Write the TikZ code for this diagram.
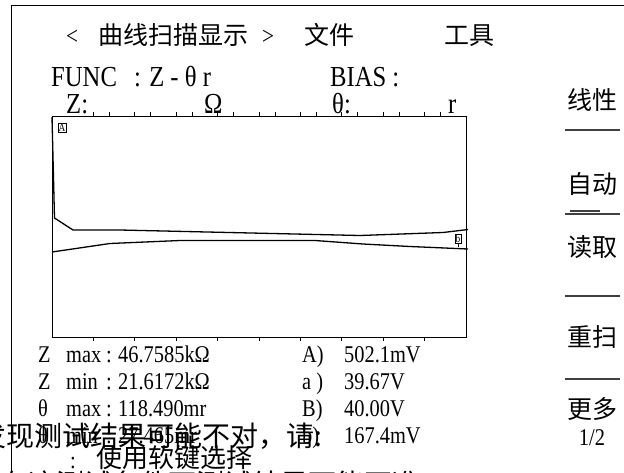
\documentclass[tikz,border=0pt]{standalone}
\usepackage{fontspec}
\setmainfont{Liberation Serif}[FakeStretch=0.85]
\newfontfamily\cjk{Noto Sans CJK SC}
\usetikzlibrary{positioning}

\tikzset{
  lbl/.style={anchor=base west, inner sep=0pt, font=\fontsize{24}{24}\selectfont},
  hdr/.style={lbl, font=\fontsize{29}{29}\selectfont},
  cn/.style={anchor=base west, inner sep=0pt, font=\cjk\fontsize{25}{25}\selectfont},
  cnbig/.style={cn, font=\cjk\fontsize{28}{28}\selectfont},
  softkey/.style={cn, anchor=base},
  keyline/.style={line width=1.6pt, draw=black!75},
  outerline/.style={line width=1pt},
  trace/.style={line width=1.3pt},
  tagbox/.style={draw, line width=0.6pt, inner sep=0.8pt, font=\fontsize{11}{11}\selectfont},
}

\begin{document}
\begin{tikzpicture}[x=1pt,y=-1pt]
    \useasboundingbox (0,0) rectangle (624,472);
    % Outer frame
    \draw[outerline] (11,472) -- (11,5) -- (624,5);

    % Title line
    \node[lbl, font=\fontsize{25}{25}\selectfont] (lt) at (66,44) {<};
    \node[cn] (title) at (98,44) {曲线扫描显示};
    \node[lbl, font=\fontsize{25}{25}\selectfont] (gt) at (262,44) {>};
    \node[cn] (file) at (304,44) {文件};
    \node[cn] (tool) at (444,44) {工具};

    % Function and bias
    \node[hdr] (func) at (51,86) {FUNC};
    \node[hdr] (fz) at (134,86) {: Z - θ r};
    \node[hdr] (bias) at (330,86) {BIAS :};
    \node[hdr] (zl) at (66,113) {Z:};
    \node[hdr] (om) at (204,113) {Ω};
    \node[hdr] (tl) at (332,113) {θ:};
    \node[hdr] (rl) at (448,113) {r};

    % Plot area with ticks
    \draw[outerline] (52,116) rectangle (466,337);
    \foreach \i in {1,...,9} {
        \draw[line width=0.9pt] (52+41.4*\i,116) -- ++(0,-4);
        \draw[line width=0.9pt] (68+41.4*\i,116) -- ++(0,-4);
        \draw[line width=0.9pt] (52+41.4*\i,337) -- ++(0,4);
    }

    % Z and theta traces
    \draw[trace] (52,117) -- (54.5,218) -- (73,230) -- (120,230) -- (360,235.5) -- (443,232.5) -- (468,229.5);
    \draw[trace] (52,252) -- (110,243.5) -- (180,240.5) -- (315,240.5) -- (363,244) -- (410,246.5) -- (468,249);
    \node[tagbox] (ma) at (62,128) {A};
    \node[tagbox] (mb) at (458,239) {b};
    \draw (mb.south) -- ++(0,3);

    % Readings
    \foreach \yy/\qa/\qb/\qv/\qc/\qw [count=\k] in {362/Z/max/46.7585kΩ/A)/502.1mV, 389/Z/min/21.6172kΩ/a )/39.67V, 416/θ/max/118.490mr/B)/40.00V, 443/θ/min/27.465mr/b)/167.4mV} {
        \node[lbl] (q\k) at (38,\yy) {\qa};
        \node[lbl] (n\k) at (66,\yy) {\qb};
        \node[lbl] (c\k) at (106,\yy) {:};
        \node[lbl] (v\k) at (118,\yy) {\qv};
        \node[lbl] (s\k) at (302,\yy) {\qc};
        \node[lbl] (w\k) at (344,\yy) {\qw};
    }

    % Message lines
    \node[cnbig] (warn) at (-22,446) {发现测试结果可能不对，请:};
    \node[lbl] (dot) at (70,468) {:};
    \node[cn, font=\cjk\fontsize{26}{26}\selectfont] (hint) at (96,467) {使用软键选择};
    \node[cnbig] (cut) at (0,494) {在这测试条件下测试结果可能不准};

    % Soft keys
    \node[softkey] (k1) at (592,109) {线性};
    \draw[keyline] (565,130) -- (620,130);
    \node[softkey] (k2) at (592,193) {自动};
    \draw[keyline] (570,211) -- (600,211);
    \draw[keyline] (565,214) -- (620,214);
    \node[softkey] (k3) at (592,256) {读取};
    \draw[keyline] (565,296) -- (620,296);
    \node[softkey] (k4) at (592,346) {重扫};
    \draw[keyline] (565,379) -- (620,379);
    \node[softkey] (k5) at (592,418) {更多};
    \node[lbl, anchor=base] (k6) at (592,445) {1/2};
\end{tikzpicture}
\end{document}
